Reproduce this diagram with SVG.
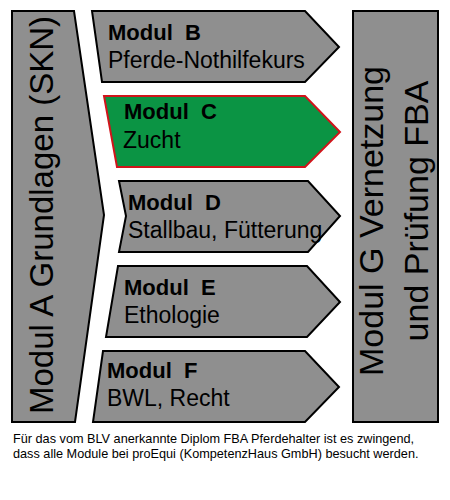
<svg xmlns="http://www.w3.org/2000/svg" width="450" height="500" viewBox="0 0 450 500">
<style>
.box{fill:#8f8f8f;stroke:#000;stroke-width:2;stroke-linejoin:miter}
.hi{fill:#0b9444;stroke:#d1141b;stroke-width:2}
.big{font-family:"Liberation Sans",Arial,sans-serif;font-size:33px;fill:#000;text-anchor:middle}
.t{font-family:"Liberation Sans",Arial,sans-serif;font-size:22px;fill:#000}
.b{font-weight:bold}
.cap{font-family:"Liberation Sans",Arial,sans-serif;font-size:12.7px;fill:#000}
</style>
<rect width="450" height="500" fill="#fff"/>
<g id="modulA">
<polygon class="box" points="12,11 74,11 104,215 75,422 12,422"/>
<text class="big" transform="translate(53,215) rotate(-90)">Modul A Grundlagen (SKN)</text>
</g>
<g id="modulB">
<polygon class="box" points="92,11 305,11 339,47 305,82 102,82"/>
<text class="t b" x="108" y="40" xml:space="preserve">Modul  B</text>
<text class="t" x="108" y="68" style="font-size:23px">Pferde-Nothilfekurs</text>
</g>
<g id="modulC">
<polygon class="hi" points="104,96 305,96 340,132 305,167 117,167"/>
<text class="t b" x="124" y="119" xml:space="preserve">Modul  C</text>
<text class="t" x="123" y="148" style="font-size:23px">Zucht</text>
</g>
<g id="modulD">
<polygon class="box" points="119,181 308,181 340,216 308,252 119,252 126,216"/>
<text class="t b" x="128" y="210" xml:space="preserve">Modul  D</text>
<text class="t" x="128" y="238" style="font-size:23px">Stallbau, Fütterung</text>
</g>
<g id="modulE">
<polygon class="box" points="118,266 307,266 340,302 307,337 106,337"/>
<text class="t b" x="124" y="295" xml:space="preserve">Modul  E</text>
<text class="t" x="124" y="323" style="font-size:23px">Ethologie</text>
</g>
<g id="modulF">
<polygon class="box" points="103,351 305,351 339,387 305,422 93,422"/>
<text class="t b" x="107" y="378" xml:space="preserve">Modul  F</text>
<text class="t" x="107" y="406" style="font-size:23px">BWL, Recht</text>
</g>
<g id="modulG">
<rect class="box" x="353" y="11" width="85" height="411"/>
<text class="big" transform="translate(383,221) rotate(-90)" style="font-size:34px">Modul G Vernetzung</text>
<text class="big" transform="translate(428,211) rotate(-90)" style="font-size:34px">und Prüfung FBA</text>
</g>
<g id="connectors"></g>
<g id="caption">
<text class="cap" x="13" y="443">Für das vom BLV anerkannte Diplom FBA Pferdehalter ist es zwingend,</text>
<text class="cap" x="13" y="458">dass alle Module bei proEqui (KompetenzHaus GmbH) besucht werden.</text>
</g>
</svg>
